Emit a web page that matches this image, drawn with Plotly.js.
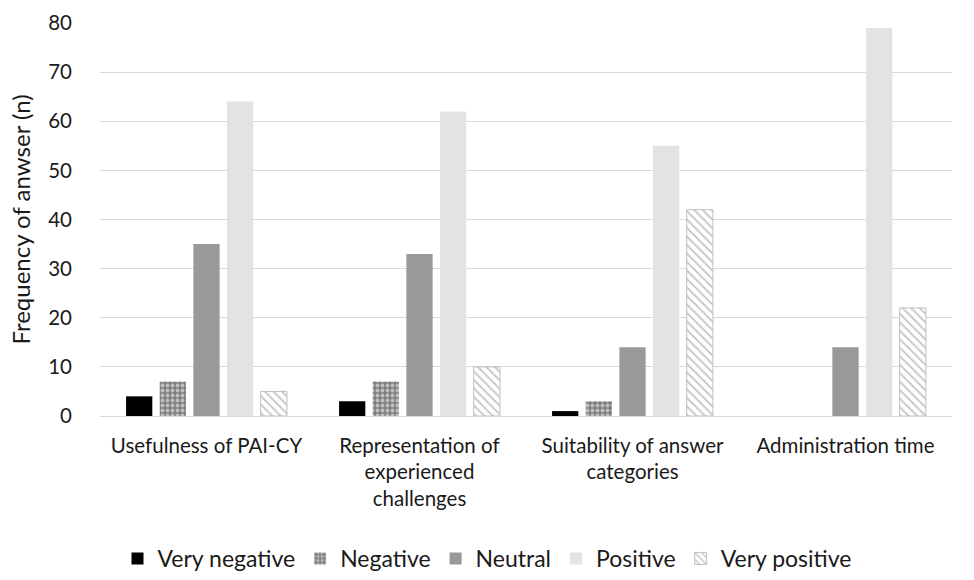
<!DOCTYPE html>
<html>
<head>
<meta charset="utf-8">
<script src="https://cdn.plot.ly/plotly-3.0.1.min.js"></script>
<style>html,body{margin:0;padding:0;background:#fff}#chart{width:974px;height:580px}</style>
</head>
<body>
<div id="chart"></div>
<script>
// Survey items on the x axis
const categories = [
  "Usefulness of PAI-CY",
  "Representation of<br>experienced<br>challenges",
  "Suitability of answer<br>categories",
  "Administration time"
];
const seriesNames = ["Very negative", "Negative", "Neutral", "Positive", "Very positive"];
const veryNegative = [4, 3, 1, 0];
const negative = [7, 7, 3, 0];
const neutral = [35, 33, 14, 14];
const positive = [64, 62, 55, 79];
const veryPositive = [5, 10, 42, 22];
const yTicks = [0, 10, 20, 30, 40, 50, 60, 70, 80];

const font = "Lato, 'Open Sans', sans-serif";
const ink = "#1a1a1a";

const traces = [
  {name: seriesNames[0], y: veryNegative, marker: {color: "#000000"}},
  {name: seriesNames[1], y: negative, marker: {color: "#7f7f7f",
    pattern: {shape: ".", bgcolor: "#7f7f7f", fgcolor: "#ffffff", size: 5, solidity: 0.45, fillmode: "overlay"}}},
  {name: seriesNames[2], y: neutral, marker: {color: "#999999"}},
  {name: seriesNames[3], y: positive, marker: {color: "#e3e3e3"}},
  {name: seriesNames[4], y: veryPositive, marker: {color: "#ffffff",
    line: {color: "#bfbfbf", width: 1},
    pattern: {shape: "\\", bgcolor: "#ffffff", fgcolor: "#c4c4c4", size: 6, solidity: 0.3}}}
].map(t => Object.assign({type: "bar", x: categories, hoverinfo: "none"}, t));

const layout = {
  width: 974, height: 580,
  margin: {l: 100, r: 22, t: 23, b: 164},
  paper_bgcolor: "#ffffff", plot_bgcolor: "#ffffff",
  font: {family: font, size: 20.5, color: ink},
  barmode: "group",
  bargap: 0.21,
  bargroupgap: 0.22,
  showlegend: true,
  legend: {orientation: "h", xref: "container", x: 0.5, xanchor: "center",
    yref: "container", y: 0, yanchor: "bottom",
    font: {family: font, size: 23, color: ink}, traceorder: "normal"},
  xaxis: {
    type: "category", tickfont: {family: font, size: 20.5, color: ink},
    showgrid: false, showline: true, linecolor: "#d9d9d9", linewidth: 1,
    ticks: "", ticklabelstandoff: 11, automargin: false
  },
  yaxis: {
    range: [0, 80], tickvals: yTicks, ticktext: yTicks.map(String),
    showgrid: true, gridcolor: "#d9d9d9", gridwidth: 1, zeroline: false,
    showline: false, ticks: "", ticklabelstandoff: 27,
    tickfont: {family: font, size: 20.5, color: ink},
    title: {text: "Frequency of anwser (n)", font: {family: font, size: 24, color: ink}, standoff: 10},
    automargin: false
  }
};

Plotly.newPlot("chart", traces, layout, {displayModeBar: false, staticPlot: true});
</script>
</body>
</html>
